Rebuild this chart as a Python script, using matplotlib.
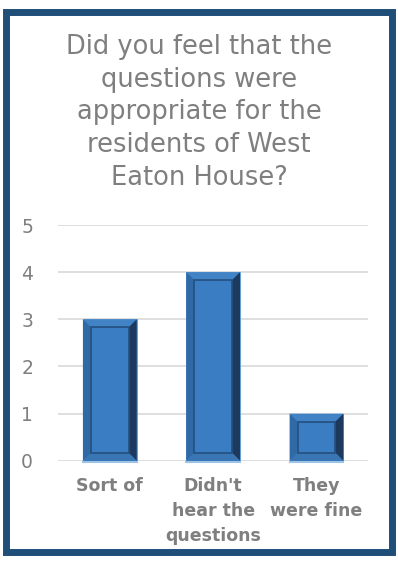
import matplotlib.pyplot as plt
from matplotlib.patches import Polygon, Rectangle

title = "Did you feel that the\nquestions were\nappropriate for the\nresidents of West\nEaton House?"
categories = ["Sort of", "Didn't\nhear the\nquestions", "They\nwere fine"]
counts = [3, 4, 1]
yticks = [0, 1, 2, 3, 4, 5]

grey = '#7F7F7F'
fig = plt.figure(figsize=(3.98, 5.64), dpi=100)
fig.patch.set_facecolor('white')

# dark blue frame round the chart
fig.patches.append(Rectangle((0.016, 0.022), 0.968, 0.957, transform=fig.transFigure,
                             fill=False, edgecolor='#1F4E79', linewidth=5))

fig.text(0.5, 0.94, title, ha='center', va='top', fontsize=18.5, color=grey,
         linespacing=1.34)

ax = fig.add_axes([0.146, 0.183, 0.779, 0.418])
x = list(range(len(categories)))
bars = ax.bar(x, counts, width=0.52, color='#3A7DC2', edgecolor='#5B9BD5',
              linewidth=0.6, zorder=3)

# bevel effect, worked out from each bar's own box
dx = 8 * 3 / 310
dy = 8 * 5 / 236
for b in bars:
    x0, y0 = b.get_x(), b.get_y()
    x1, y1 = x0 + b.get_width(), y0 + b.get_height()
    ix0, ix1, iy0, iy1 = x0 + dx, x1 - dx, y0 + dy, y1 - dy
    faces = [
        ([(x0, y1), (x1, y1), (ix1, iy1), (ix0, iy1)], '#4283C6'),
        ([(x0, y0), (x0, y1), (ix0, iy1), (ix0, iy0)], '#2F6AA6'),
        ([(x1, y0), (x1, y1), (ix1, iy1), (ix1, iy0)], '#1D3A5E'),
        ([(x0, y0), (x1, y0), (ix1, iy0), (ix0, iy0)], '#3A76B4'),
    ]
    for pts, c in faces:
        ax.add_patch(Polygon(pts, closed=True, facecolor=c, edgecolor='none', zorder=4))
    ax.add_patch(Rectangle((ix0, iy0), ix1 - ix0, iy1 - iy0, facecolor='#3A7DC2',
                           edgecolor='#24507F', linewidth=1.2, zorder=5))
    ax.plot([x0, x1], [-0.03, -0.03], color='#9DC3E6', linewidth=1.5, zorder=2,
            clip_on=False)

ax.set_xlim(-0.5, 2.5)
ax.set_ylim(0, 5)
ax.set_yticks(yticks)
ax.set_xticks(x)
ax.set_xticklabels(categories, fontsize=12.5, fontweight='bold', color=grey,
                   linespacing=1.5)
ax.tick_params(axis='y', labelsize=13.5, colors=grey, length=0, pad=18)
ax.tick_params(axis='x', length=0, pad=12)
ax.yaxis.grid(True, color='#D9D9D9', linewidth=1.2, zorder=0)
ax.set_axisbelow(True)
for s in ax.spines.values():
    s.set_visible(False)

plt.savefig('out.png', dpi=100)
